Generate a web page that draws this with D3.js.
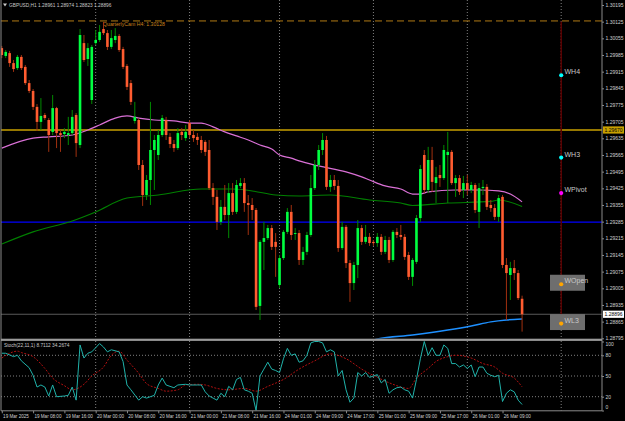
<!DOCTYPE html>
<html>
<head>
<meta charset="utf-8">
<script src="https://cdn.jsdelivr.net/npm/d3@7"></script>
<style>
    html, body { margin: 0; padding: 0; background: #000; }
    svg { display: block; }
    text { font-family: Tahoma, 'Liberation Sans', Arial, sans-serif; }
</style>
</head>
<body>
<svg id="chart" width="625" height="421"></svg>
<script>
// GBPUSD H1 candles, one value per bar (bar 0 = 19 Mar 00:00, last = 26 Mar 14:00)
const opens = [1.30014,1.29981,1.29993,1.29951,1.29930,1.29977,1.29935,1.29867,1.29834,1.29767,1.29704,1.29733,1.29712,1.29662,1.29762,1.29657,1.29653,1.29649,1.29657,1.29733,
    1.29607,1.30035,1.29968,1.29796,1.30035,1.30048,1.30094,1.30077,1.30019,1.30048,1.30065,1.30010,1.29939,1.29867,1.29708,1.29712,1.29523,1.29397,1.29460,1.29586,
    1.29565,1.29649,1.29712,1.29641,1.29611,1.29594,1.29662,1.29636,1.29699,1.29649,1.29641,1.29628,1.29620,1.29586,1.29426,1.29389,1.29284,1.29347,1.29313,1.29405,
    1.29326,1.29435,1.29447,1.29363,1.29355,1.29334,1.28931,1.29200,1.29216,1.29258,1.29200,1.29019,1.29132,1.29242,1.29326,1.29233,1.29237,1.29124,1.29158,1.29229,
    1.29426,1.29523,1.29586,1.29628,1.29431,1.29460,1.29435,1.29174,1.29263,1.29111,1.29027,1.29103,1.29258,1.29200,1.29221,1.29200,1.29195,1.29221,1.29158,1.29208,
    1.29124,1.29242,1.29229,1.29221,1.29145,1.29053,1.29116,1.29300,1.29565,1.29418,1.29544,1.29447,1.29481,1.29468,1.29565,1.29578,1.29447,1.29468,1.29418,1.29447,
    1.29418,1.29439,1.29326,1.29426,1.29431,1.29355,1.29342,1.29305,1.29389,1.29103,1.29061,1.29090,1.29069,1.28961];
const highs = [1.30023,1.30006,1.30002,1.29964,1.29985,1.29985,1.29943,1.29880,1.29842,1.29779,1.29804,1.29741,1.29720,1.29817,1.29767,1.29670,1.29678,1.29725,1.29754,1.29741,
    1.30094,1.30069,1.30035,1.30027,1.30090,1.30111,1.30124,1.30090,1.30090,1.30098,1.30073,1.30019,1.29947,1.29880,1.29788,1.29720,1.29544,1.29481,1.29788,1.29649,
    1.29670,1.29733,1.29725,1.29657,1.29628,1.29678,1.29678,1.29691,1.29712,1.29670,1.29657,1.29645,1.29628,1.29628,1.29447,1.29418,1.29376,1.29439,1.29447,1.29447,
    1.29460,1.29468,1.29468,1.29397,1.29384,1.29342,1.29208,1.29284,1.29271,1.29271,1.29237,1.29145,1.29250,1.29342,1.29355,1.29258,1.29250,1.29179,1.29242,1.29481,
    1.29544,1.29607,1.29657,1.29645,1.29481,1.29481,1.29460,1.29284,1.29271,1.29124,1.29116,1.29292,1.29271,1.29271,1.29237,1.29208,1.29237,1.29233,1.29225,1.29221,
    1.29250,1.29258,1.29271,1.29233,1.29158,1.29132,1.29313,1.29523,1.29586,1.29599,1.29599,1.29515,1.29523,1.29607,1.29662,1.29586,1.29481,1.29481,1.29477,1.29481,
    1.29452,1.29447,1.29447,1.29460,1.29443,1.29376,1.29359,1.29397,1.29397,1.29132,1.29116,1.29124,1.29082,1.28974];
const lows = [1.29972,1.29972,1.29935,1.29914,1.29922,1.29922,1.29859,1.29825,1.29754,1.29666,1.29670,1.29712,1.29578,1.29649,1.29594,1.29578,1.29636,1.29607,1.29649,1.29557,
    1.29594,1.29956,1.29939,1.29779,1.30027,1.30040,1.30069,1.30006,1.30010,1.30035,1.29998,1.29926,1.29838,1.29775,1.29697,1.29502,1.29351,1.29376,1.29355,1.29418,
    1.29544,1.29641,1.29628,1.29594,1.29578,1.29586,1.29628,1.29624,1.29636,1.29620,1.29607,1.29573,1.29561,1.29418,1.29355,1.29250,1.29271,1.29292,1.29216,1.29313,
    1.29317,1.29426,1.29326,1.29229,1.29292,1.28914,1.28872,1.29082,1.29208,1.29166,1.29053,1.29006,1.29124,1.29233,1.29208,1.29208,1.29103,1.29103,1.29145,1.29221,
    1.29418,1.29502,1.29565,1.29418,1.29410,1.29418,1.29158,1.29166,1.29090,1.28948,1.28998,1.29048,1.29187,1.29191,1.29183,1.29183,1.29179,1.29145,1.29149,1.29111,
    1.29116,1.29216,1.29208,1.29124,1.29040,1.29015,1.29107,1.29284,1.29405,1.29405,1.29410,1.29363,1.29431,1.29460,1.29363,1.29439,1.29389,1.29397,1.29384,1.29397,
    1.29405,1.29321,1.29258,1.29397,1.29334,1.29326,1.29292,1.29284,1.29090,1.28872,1.28956,1.29040,1.28956,1.28823];
const closes = [1.29985,1.29998,1.29951,1.29926,1.29977,1.29930,1.29867,1.29834,1.29767,1.29704,1.29729,1.29720,1.29649,1.29762,1.29657,1.29649,1.29662,1.29657,1.29725,1.29615,
    1.30069,1.29964,1.30014,1.30019,1.30048,1.30082,1.30077,1.30019,1.30056,1.30065,1.30006,1.29935,1.29851,1.29788,1.29725,1.29523,1.29397,1.29460,1.29586,1.29628,
    1.29649,1.29720,1.29649,1.29611,1.29594,1.29657,1.29649,1.29662,1.29649,1.29636,1.29628,1.29586,1.29578,1.29426,1.29389,1.29284,1.29347,1.29313,1.29405,1.29326,
    1.29439,1.29447,1.29363,1.29355,1.29334,1.28927,1.29200,1.29216,1.29258,1.29179,1.29179,1.29132,1.29242,1.29326,1.29229,1.29237,1.29124,1.29158,1.29229,1.29426,
    1.29523,1.29586,1.29628,1.29431,1.29460,1.29435,1.29174,1.29263,1.29111,1.29027,1.29103,1.29258,1.29200,1.29221,1.29195,1.29195,1.29221,1.29158,1.29208,1.29124,
    1.29242,1.29229,1.29221,1.29137,1.29053,1.29124,1.29300,1.29506,1.29418,1.29544,1.29452,1.29472,1.29468,1.29586,1.29578,1.29447,1.29468,1.29410,1.29447,1.29418,
    1.29439,1.29334,1.29426,1.29431,1.29347,1.29342,1.29305,1.29384,1.29103,1.29069,1.29090,1.29069,1.28964,1.28896];

// moving averages as [bar, price]
const maPink = [[0,1.29594],[8,1.29636],[12,1.29641],[18,1.29649],[22,1.29670],[25,1.29691],[29,1.29720],[32,1.29729],[35,1.29720],[39,1.29712],
    [44,1.29708],[48,1.29699],[51,1.29699],[54,1.29683],[57,1.29662],[60,1.29645],[63,1.29628],[66,1.29607],[69,1.29590],[71,1.29565],[74,1.29552],
    [76,1.29540],[81,1.29519],[88,1.29494],[92,1.29473],[94,1.29460],[98,1.29435],[102,1.29422],[105,1.29401],[107,1.29401],[109,1.29410],[116,1.29418],
    [122,1.29418],[127,1.29414],[130,1.29401],[133,1.29368]];
const maGreen = [[0,1.29191],[8,1.29242],[18,1.29288],[24,1.29326],[32,1.29384],[40,1.29397],[51,1.29422],[59,1.29422],[64,1.29414],[70,1.29397],
    [76,1.29393],[84,1.29397],[94,1.29376],[102,1.29363],[105,1.29353],[114,1.29363],[125,1.29370],[127,1.29376],[133,1.29349]];
const maBlue = [[94,1.28780],[96,1.28792],[105,1.28809],[114,1.28830],[120,1.28847],[125,1.28864],[129,1.28872],[133,1.28876]];

// Stochastic(22,11,1) main and signal as [bar, value]
const stochMain = [[0,83],[1,83],[3,78],[4,80],[5,72],[7,62],[8,51],[9,34],[10,37],[11,34],[12,21],[13,37],[14,20],[16,21],[17,22],[18,34],[19,15],
    [20,95],[21,76],[22,83],[23,85],[25,97],[26,92],[27,85],[28,88],[30,85],[31,71],[32,37],[33,30],[35,15],[36,20],[37,18],[39,22],[40,37],[41,47],
    [42,37],[44,33],[45,37],[47,38],[48,37],[50,37],[51,37],[52,27],[53,21],[54,18],[55,15],[56,25],[57,20],[58,35],[59,30],[60,45],[61,48],[62,30],
    [63,28],[64,25],[65,0],[66,50],[67,60],[68,70],[69,60],[70,58],[71,55],[72,75],[73,90],[74,80],[75,82],[76,70],[77,72],[78,80],[79,98],[80,100],
    [81,100],[82,98],[83,85],[84,88],[85,85],[86,50],[87,58],[88,30],[89,12],[90,18],[91,55],[92,50],[93,55],[94,48],[95,50],[96,52],[97,40],[98,45],
    [99,25],[100,30],[101,33],[102,34],[103,30],[104,28],[105,18],[106,45],[107,75],[108,100],[109,80],[110,91],[111,80],[112,80],[113,95],[114,90],
    [115,68],[116,68],[117,63],[118,66],[119,61],[120,66],[121,49],[122,63],[123,63],[124,54],[125,51],[126,49],[127,51],[128,13],[129,25],[130,30],
    [131,27],[132,15],[133,8.7]];
const stochSignal = [[0,76],[2,83],[4,86],[5,84],[8,78],[11,61],[13,47],[16,36],[18,30],[21,38],[23,50],[26,63],[28,80],[30,86],[32,73],[35,54],
    [37,39],[40,32],[42,28],[45,30],[47,37],[50,38],[52,37],[55,32],[58,30],[62,32],[65,28],[68,35],[72,45],[76,60],[80,72],[84,82],[88,75],[92,60],
    [96,48],[100,38],[104,32],[106,47],[109,61],[111,71],[114,78],[116,80],[118,79],[120,76],[123,68],[126,63],[128,54],[131,47],[133,34.3]];

// axis labels
const priceTicks = [1.30195,1.30125,1.30055,1.29985,1.29915,1.29845,1.29775,1.29705,1.29635,1.29565,1.29495,1.29425,1.29355,1.29285,1.29215,1.29145,1.29075,1.29005,1.28935,1.28865,1.28795];
const timeBars = [0,8,16,24,32,40,48,56,64,72,80,88,96,104,112,120,128];
const timeLabels = ['19 Mar 2025','19 Mar 08:00','19 Mar 16:00','20 Mar 00:00','20 Mar 08:00','20 Mar 16:00','21 Mar 00:00','21 Mar 08:00','21 Mar 16:00',
    '24 Mar 01:00','24 Mar 09:00','24 Mar 17:00','25 Mar 01:00','25 Mar 09:00','25 Mar 17:00','26 Mar 01:00','26 Mar 09:00'];
const gridBars = [24,48,71,95,119,143];
const stochLevels = [80,50,20];

// horizontal levels
const quarterlyCam = 1.30128;
const goldLevel = 1.29670;
const blueLevel = 1.29283;
const bidPrice = 1.28896;

// weekly pivot markers
const pivotNames = ['WH4','WH3','WPivot','WOpen','WL3'];
const pivotPrices = [1.29900,1.29554,1.29405,1.29022,1.28857];
const pivotColors = ['#00ffff','#00ffff','#ff00ff','#ffa500','#ffa500'];
const pivotBoxed = [false,false,false,true,true];
const pivotBar = 143;

const svg = d3.select('#chart');
const W = 625, H = 421;
const axisX = 602;
const mainTop = 0, mainBottom = 338.5;
const stochTop = 341, stochBottom = 410.8;

svg.append('rect').attr('width', W).attr('height', H).attr('fill', '#000');

const x = d3.scaleLinear().domain([0, 143]).range([1.8, 561.2]);
const y = d3.scaleLinear().domain([1.28795, 1.30195]).range([338.3, 5]);
const ys = d3.scaleLinear().domain([0, 100]).range([410.5, 341.5]);

const defs = svg.append('defs');
defs.append('clipPath').attr('id', 'clipMain')
    .append('rect').attr('x', 1).attr('y', mainTop).attr('width', axisX - 1).attr('height', mainBottom - mainTop);
defs.append('clipPath').attr('id', 'clipStoch')
    .append('rect').attr('x', 1).attr('y', stochTop).attr('width', axisX - 1).attr('height', stochBottom - stochTop);

const main = svg.append('g').attr('clip-path', 'url(#clipMain)');
const stoch = svg.append('g').attr('clip-path', 'url(#clipStoch)');

// dotted vertical grid in both panels
gridBars.forEach((b) => {
    main.append('line').attr('x1', x(b)).attr('x2', x(b)).attr('y1', mainTop).attr('y2', mainBottom)
        .attr('stroke', '#808080').attr('stroke-dasharray', '1,2');
    stoch.append('line').attr('x1', x(b)).attr('x2', x(b)).attr('y1', stochTop).attr('y2', stochBottom)
        .attr('stroke', '#808080').attr('stroke-dasharray', '1,2');
});

// level lines
main.append('line').attr('x1', 1).attr('x2', axisX).attr('y1', y(quarterlyCam)).attr('y2', y(quarterlyCam))
    .attr('stroke', '#b07a14').attr('stroke-width', 1).attr('stroke-dasharray', '7,4');
main.append('text').attr('x', 103).attr('y', y(quarterlyCam) + 4.8)
    .attr('fill', '#c8801c').attr('font-size', 5.2).text('QuarterlyCam H4: 1.30128');
main.append('line').attr('x1', 1).attr('x2', axisX).attr('y1', y(goldLevel)).attr('y2', y(goldLevel))
    .attr('stroke', '#c8a000').attr('stroke-width', 1.3);
main.append('line').attr('x1', 1).attr('x2', axisX).attr('y1', y(blueLevel)).attr('y2', y(blueLevel))
    .attr('stroke', '#0000ff').attr('stroke-width', 1.4);
main.append('line').attr('x1', 1).attr('x2', axisX).attr('y1', y(bidPrice)).attr('y2', y(bidPrice))
    .attr('stroke', '#5a5a5a').attr('stroke-width', 1);

// pivot marker line
main.append('line').attr('x1', x(pivotBar)).attr('x2', x(pivotBar)).attr('y1', y(quarterlyCam) + 0.5).attr('y2', y(pivotPrices[4]))
    .attr('stroke', '#5c0000').attr('stroke-width', 1.5);

// moving averages
const maLine = d3.line().x((d) => x(d[0])).y((d) => y(d[1])).curve(d3.curveMonotoneX);
main.append('path').attr('d', maLine(maGreen)).attr('fill', 'none').attr('stroke', '#008000').attr('stroke-width', 1.1);
main.append('path').attr('d', maLine(maPink)).attr('fill', 'none').attr('stroke', '#da70d6').attr('stroke-width', 1.2);
main.append('path').attr('d', maLine(maBlue)).attr('fill', 'none').attr('stroke', '#1e90ff').attr('stroke-width', 1.5);

// candles
const bars = d3.range(opens.length).map((i) => ({ i, o: opens[i], h: highs[i], l: lows[i], c: closes[i] }));
main.selectAll('line.wick').data(bars).join('line').attr('class', 'wick')
    .attr('x1', (d) => x(d.i)).attr('x2', (d) => x(d.i))
    .attr('y1', (d) => y(d.h)).attr('y2', (d) => y(d.l))
    .attr('stroke', (d) => (d.c >= d.o ? '#008a00' : '#a0300f')).attr('stroke-width', 1);
main.selectAll('rect.body').data(bars).join('rect').attr('class', 'body')
    .attr('x', (d) => x(d.i) - 1.3).attr('width', 2.6)
    .attr('y', (d) => y(Math.max(d.o, d.c)))
    .attr('height', (d) => Math.max(0.8, Math.abs(y(d.o) - y(d.c))))
    .attr('fill', (d) => (d.c >= d.o ? '#00ff40' : '#ff5c30'));

// pivot markers
pivotNames.forEach((name, k) => {
    const py = y(pivotPrices[k]);
    if (pivotBoxed[k]) {
        main.append('rect').attr('x', 550).attr('y', py - 9.5).attr('width', 35).attr('height', 16).attr('fill', '#6e6e6e');
    }
    main.append('circle').attr('cx', x(pivotBar)).attr('cy', py).attr('r', 2.1).attr('fill', pivotColors[k]);
    main.append('text').attr('x', 564.5).attr('y', py - 1).attr('fill', '#c8c8c8').attr('font-size', 7).text(name);
});

// stochastic panel
stochLevels.forEach((v) => {
    stoch.append('line').attr('x1', 1).attr('x2', axisX).attr('y1', ys(v)).attr('y2', ys(v))
        .attr('stroke', '#808080').attr('stroke-dasharray', '1,2');
});
const stLine = d3.line().x((d) => x(d[0])).y((d) => ys(d[1]));
stoch.append('path').attr('d', stLine.curve(d3.curveMonotoneX)(stochSignal)).attr('fill', 'none')
    .attr('stroke', '#b01010').attr('stroke-width', 1).attr('stroke-dasharray', '2,1.5');
stoch.append('path').attr('d', stLine.curve(d3.curveLinear)(stochMain)).attr('fill', 'none')
    .attr('stroke', '#20b2aa').attr('stroke-width', 1);
svg.append('text').attr('x', 4).attr('y', 346.5).attr('fill', '#c8c8c8').attr('font-size', 4.8)
    .text('Stoch(22,11,1) 8.7112 34.2674');

// frame lines
svg.append('line').attr('x1', 1).attr('x2', 1).attr('y1', 0).attr('y2', stochBottom).attr('stroke', '#8a8a8a');
svg.append('line').attr('x1', axisX).attr('x2', axisX).attr('y1', 0).attr('y2', stochBottom).attr('stroke', '#8a8a8a');
svg.append('rect').attr('x', 1).attr('y', mainBottom + 0.2).attr('width', axisX - 1).attr('height', 2.2).attr('fill', '#9a9a9a');
svg.append('line').attr('x1', 1).attr('x2', axisX).attr('y1', stochBottom).attr('y2', stochBottom).attr('stroke', '#8a8a8a');

// price axis
const yAxis = d3.axisRight(y).tickValues(priceTicks).tickFormat(d3.format('.5f')).tickSize(2).tickPadding(1.5);
const gy = svg.append('g').attr('transform', `translate(${axisX},0)`).call(yAxis);
gy.select('.domain').remove();
gy.selectAll('line').attr('stroke', '#8a8a8a');
gy.selectAll('text').attr('fill', '#d0d0d0').attr('font-size', 5).attr('font-family', null);

// highlighted price labels
const priceTags = [[goldLevel, '#c8a000', '#000'], [bidPrice, '#ffffff', '#000']];
priceTags.forEach(([p, bg, fg]) => {
    svg.append('rect').attr('x', axisX + 1).attr('y', y(p) - 3.6).attr('width', 21).attr('height', 7.2).attr('fill', bg);
    svg.append('text').attr('x', axisX + 2.5).attr('y', y(p)).attr('dy', '0.34em')
        .attr('fill', fg).attr('font-size', 5).text(d3.format('.5f')(p));
});

// stochastic axis
const sAxis = d3.axisRight(ys).tickValues([100, 80, 50, 20, 0]).tickSize(2).tickPadding(1.5);
const gs = svg.append('g').attr('transform', `translate(${axisX},0)`).call(sAxis);
gs.select('.domain').remove();
gs.selectAll('line').attr('stroke', '#8a8a8a');
gs.selectAll('text').attr('fill', '#d0d0d0').attr('font-size', 5).attr('font-family', null);
gs.selectAll('.tick').filter((d) => d === 100).select('text').attr('y', 2.6);
gs.selectAll('.tick').filter((d) => d === 0).select('text').attr('y', -3.2);

// time axis
const xAxis = d3.axisBottom(x).tickValues(timeBars).tickFormat((d, i) => timeLabels[i]).tickSize(2.5).tickPadding(1.2);
const gx = svg.append('g').attr('transform', `translate(0,${stochBottom})`).call(xAxis);
gx.select('.domain').remove();
gx.selectAll('line').attr('stroke', '#8a8a8a');
gx.selectAll('text').attr('fill', '#d0d0d0').attr('font-size', 4.6).attr('font-family', null)
    .attr('text-anchor', 'start').attr('x', 0.8);

// header
svg.append('path').attr('d', 'M3,3.5 L7,3.5 L5,6.5 Z').attr('fill', '#c8c8c8');
svg.append('text').attr('x', 9).attr('y', 7).attr('fill', '#c8c8c8').attr('font-size', 4.8)
    .text('GBPUSD,H1  1.28961 1.28974 1.28823 1.28896');
</script>
</body>
</html>
